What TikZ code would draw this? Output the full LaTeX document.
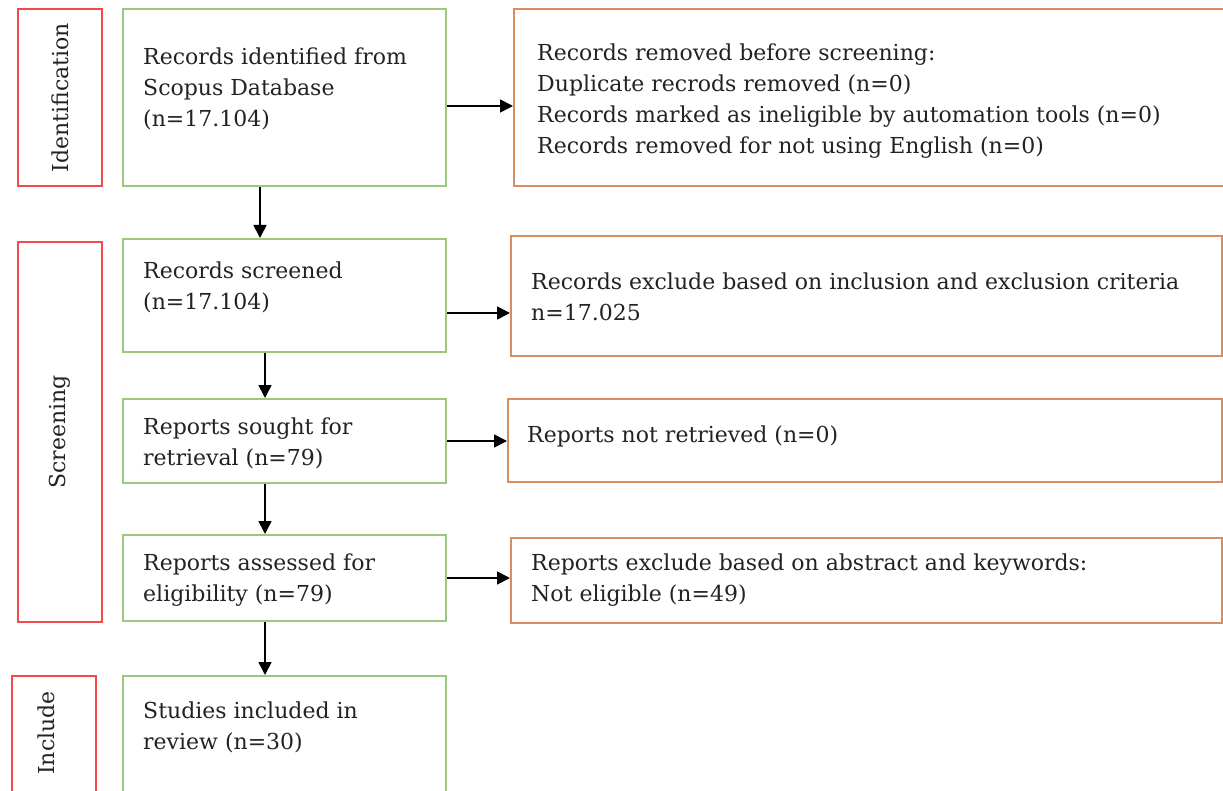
\documentclass[tikz,border=0pt]{standalone}
\usepackage{fontspec}
\setmainfont{DejaVu Serif}
\usetikzlibrary{arrows.meta}
\definecolor{phasered}{HTML}{F24A4A}
\definecolor{flowgreen}{HTML}{9CC77E}
\definecolor{exclorange}{HTML}{D98B62}
\definecolor{txtgray}{HTML}{222222}
\begin{document}
\begin{tikzpicture}
    [x=1pt,y=-1pt,inner sep=0pt,
     phase/.style={draw=phasered,line width=2pt,anchor=north west},
     flow/.style={draw=flowgreen,line width=2pt,anchor=north west},
     excl/.style={draw=exclorange,line width=2pt,anchor=north west},
     txt/.style={anchor=north west,align=left,text=txtgray,font=\fontsize{22}{31}\selectfont},
     arr/.style={-{Triangle[length=13pt,width=13pt]},line width=1.8pt}]
    \useasboundingbox (0,0) rectangle (1223,791);
    \clip (0,0) rectangle (1223,791);
    % phases
    \node (ident) at (17,8) [phase,minimum width=84pt,minimum height=177pt] {};
    \node (screen) at (17,241) [phase,minimum width=84pt,minimum height=380pt] {};
    \node (incl) at (11,675) [phase,minimum width=84pt,minimum height=150pt] {};
    \node at (ident.center) [txt,anchor=center,rotate=90] {Identification};
    \node at (screen.center) [txt,anchor=center,rotate=90] {Screening};
    \node at (46,733) [txt,anchor=center,rotate=90] {Include};
    % main flow
    \node (rec) at (122,8) [flow,minimum width=323pt,minimum height=177pt] {};
    \node (scr) at (122,238) [flow,minimum width=323pt,minimum height=113pt] {};
    \node (sought) at (122,398) [flow,minimum width=323pt,minimum height=84pt] {};
    \node (assess) at (122,534) [flow,minimum width=323pt,minimum height=86pt] {};
    \node (study) at (122,675) [flow,minimum width=323pt,minimum height=160pt] {};
    \node at (143,48) [txt] {Records identified from\\Scopus Database\\(n=17.104)};
    \node at (143,262) [txt] {Records screened\\(n=17.104)};
    \node at (143,418) [txt] {Reports sought for\\retrieval (n=79)};
    \node at (143,554) [txt] {Reports assessed for\\eligibility (n=79)};
    \node at (143,702) [txt] {Studies included in\\review (n=30)};
    % exclusions
    \node (rem) at (513,8) [excl,minimum width=740pt,minimum height=177pt] {};
    \node (crit) at (510,235) [excl,minimum width=711pt,minimum height=120pt] {};
    \node (notret) at (507,398) [excl,minimum width=714pt,minimum height=83pt] {};
    \node (abst) at (510,537) [excl,minimum width=711pt,minimum height=85pt] {};
    \node at (537,44) [txt] {Records removed before screening:\\Duplicate recrods removed (n=0)\\Records marked as ineligible by automation tools (n=0)\\Records removed for not using English (n=0)};
    \node at (531,273) [txt] {Records exclude based on inclusion and exclusion criteria\\n=17.025};
    \node at (527,426) [txt] {Reports not retrieved (n=0)};
    \node at (531,554) [txt] {Reports exclude based on abstract and keywords:\\Not eligible (n=49)};
    % arrows
    \draw [arr] ([xshift=138pt]rec.south west) to ([xshift=138pt]scr.north west);
    \draw [arr] ([xshift=143pt]scr.south west) to ([xshift=143pt]sought.north west);
    \draw [arr] ([xshift=143pt]sought.south west) to ([xshift=143pt]assess.north west);
    \draw [arr] ([xshift=143pt]assess.south west) to ([xshift=143pt]study.north west);
    \draw [arr] ([yshift=-8.5pt]rec.east) to ([yshift=-8.5pt]rec.east -| rem.west);
    \draw [arr] ([yshift=-17.5pt]scr.east) to ([yshift=-17.5pt]scr.east -| crit.west);
    \draw [arr] (sought.east) to (sought.east -| notret.west);
    \draw [arr] (assess.east) to (assess.east -| abst.west);
\end{tikzpicture}
\end{document}
